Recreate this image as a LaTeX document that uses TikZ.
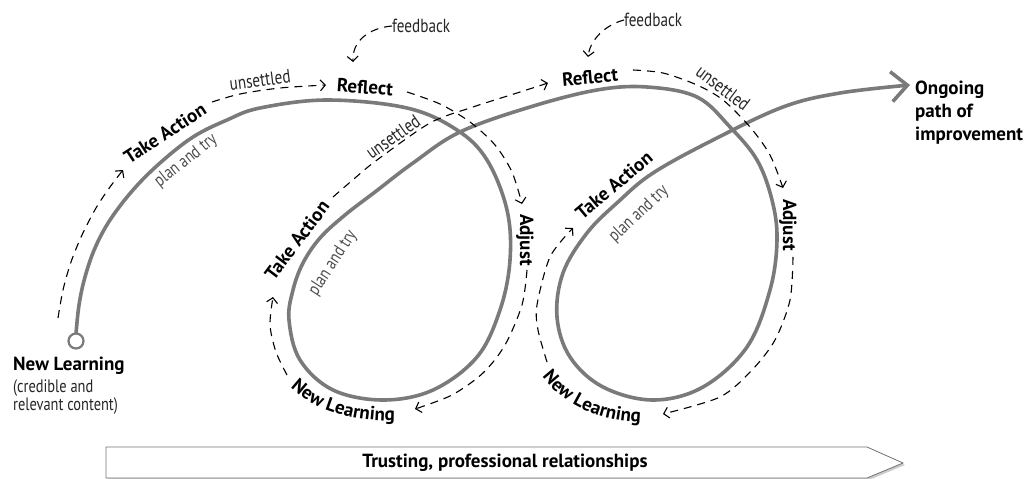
\documentclass[tikz,border=0pt]{standalone}
\usepackage{fontspec}
\setmainfont{PT Sans}
\newfontfamily\lightfont{PT Sans}[FakeStretch=0.8]
\usetikzlibrary{arrows.meta,decorations.text}
\definecolor{pathgray}{HTML}{7A7A7A}
\tikzset{
  mainpath/.style={draw=pathgray, line width=3.6pt, line cap=round, line join=round},
  dashpath/.style={draw=black, line width=1.1pt, dash pattern=on 8pt off 6pt,
    -{Straight Barb[length=5pt,width=11pt,line width=1.1pt]}},
  boldlbl/.style={font=\bfseries\fontsize{19}{19}\selectfont, inner sep=0pt},
  smalllbl/.style={font=\lightfont\fontsize{19}{19}\selectfont, inner sep=0pt, text=black!85},
  plantry/.style={font=\lightfont\fontsize{18}{18}\selectfont, inner sep=0pt, text=black!70},
}
\begin{document}
\begin{tikzpicture}[x=1pt,y=-1pt]
\useasboundingbox (0,0) rectangle (1034,479);

% banner
\fill[black!20] (108,449) -- (869,449) -- (905,465) -- (869,480) -- (108,480) -- cycle;
\draw[draw=black!55, fill=white, line width=0.8pt] (106,447) -- (867,447) -- (903,463) -- (867,478) -- (106,478) -- cycle;
\node[boldlbl] (trust) at (505,463) {Trusting, professional relationships};

% main path
\draw[mainpath, -{Straight Barb[length=16pt,width=30pt]}] plot[smooth, tension=0.6] coordinates {
 (76,334) (79,305) (85,277) (95,248) (110,220) (133,190) (160,163) (193,137) (227,120)
 (260,108) (327,100) (407,108) (457,130) (487,160) (507,210) (510,260) (500,310)
 (477,357) (433,390) (383,400) (333,390) (300,360) (289,320) (293,290) (303,263)
 (320,238) (345,215) (375,192) (413,163) (460,132) (530,107) (597,90) (647,87) (697,97) (730,127)
 (757,160) (772,200) (777,240) (770,290) (747,347) (703,387) (653,400) (603,387)
 (570,357) (557,317) (563,273) (587,233) (618,202) (653,173) (713,140) (783,107) (840,93) (910,85)};
\node[circle, draw=pathgray, line width=2.2pt, fill=white, minimum size=15pt, inner sep=0pt] (start) at (76,341) {};

% dashed arrows
\draw[dashpath] plot[smooth] coordinates {(58,318) (63,290) (71,262) (82,235) (96,208) (110,187) (123,170)};
\draw[dashpath] plot[smooth] coordinates {(212,102) (240,94) (280,88) (326,85)};
\draw[dashpath] plot[smooth] coordinates {(407,92) (440,104) (470,122) (495,145) (512,172) (522,204)};
\draw[dashpath] plot[smooth] coordinates {(527,270) (522,305) (505,345) (483,373) (452,395) (415,409)};
\draw[dashpath] plot[smooth] coordinates {(287,375) (276,352) (270,325) (273,297)};
\draw[dashpath] plot[smooth] coordinates {(333,197) (355,178) (377,160) (430,123) (473,107) (517,93) (548,83)};
\draw[dashpath] plot[smooth] coordinates {(633,70) (663,73) (697,85) (723,100) (750,127) (770,155) (783,188)};
\draw[dashpath] plot[smooth] coordinates {(793,257) (790,300) (775,340) (752,370) (720,397) (663,414)};
\draw[dashpath] plot[smooth] coordinates {(547,362) (538,330) (537,305) (550,257) (573,228)};

% feedback
\node[smalllbl, anchor=west] (fb1) at (392,26) {feedback};
\node[smalllbl, anchor=west] (fb2) at (624,20) {feedback};
\draw[dashpath] (fb1.west) .. controls (368,28) and (352,42) .. (353,62);
\draw[dashpath] (fb2.west) .. controls (605,25) and (590,40) .. (588,57);

% labels loop 1
\node[boldlbl, rotate=33] (ta1) at (165,133) {Take Action};
\node[plantry, rotate=38] (pt1) at (186,161) {plan and try};
\node[smalllbl, rotate=7] (un1) at (260,80) {unsettled};
\node[boldlbl, rotate=-4] (rf1) at (365,87) {Reflect};
\node[boldlbl, rotate=-90] (ad1) at (525,240) {Adjust};
\path[decorate, decoration={text along path, text align=center,
  text={|\bfseries\fontsize{19}{19}\selectfont|New Learning}}]
  (278,372) .. controls (300,408) and (350,425) .. (415,420);

% labels loop 2
\node[boldlbl, rotate=53] (ta2) at (297,240) {Take Action};
\node[plantry, rotate=57] (pt2) at (333,263) {plan and try};
\node[smalllbl, rotate=35] (un2) at (393,137) {unsettled};
\node[boldlbl, rotate=5] (rf2) at (590,77) {Reflect};
\node[smalllbl, rotate=-37] (un3) at (723,88) {unsettled};
\node[boldlbl, rotate=-90] (ad2) at (788,225) {Adjust};
\path[decorate, decoration={text along path, text align=center,
  text={|\bfseries\fontsize{19}{19}\selectfont|New Learning}}]
  (532,360) .. controls (555,405) and (600,425) .. (660,422);

% labels loop 3
\node[boldlbl, rotate=40] (ta3) at (614,185) {Take Action};
\node[plantry, rotate=43] (pt3) at (639,214) {plan and try};

% ends
\node[boldlbl, anchor=north west, align=left, font=\bfseries\fontsize{19}{23}\selectfont] (ongoing) at (915,81) {Ongoing\\path of\\improvement};
\node[boldlbl, anchor=base west] (nl0) at (13,370) {New Learning};
\node[smalllbl, anchor=north west, align=left, font=\lightfont\fontsize{18}{18}\selectfont] (cred) at (13,379) {(credible and\\relevant content)};
\end{tikzpicture}
\end{document}
